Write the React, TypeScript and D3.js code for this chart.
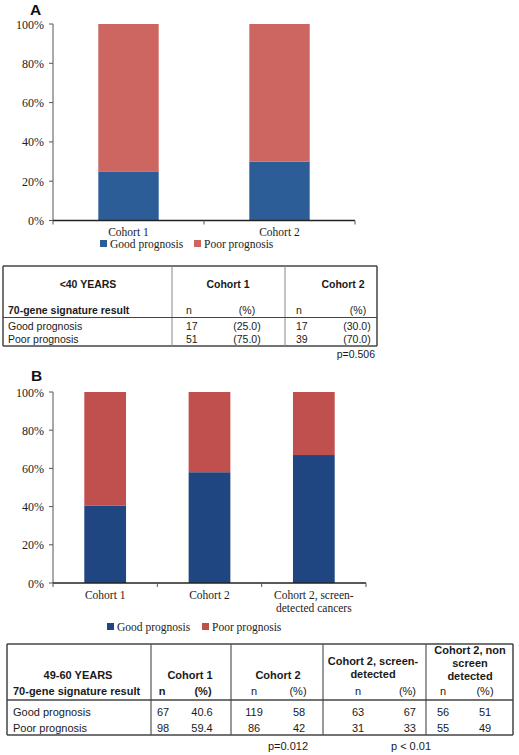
import React from "react";
import * as d3 from "d3";

const cohortsA = ["Cohort 1", "Cohort 2"];
const goodA = [25, 30];
const poorA = [75, 70];

const cohortsB = ["Cohort 1", "Cohort 2", "Cohort 2, screen-|detected cancers"];
const goodB = [40.6, 58, 67];
const poorB = [59.4, 42, 33];

const yTicks = [0, 20, 40, 60, 80, 100];
const seriesNames = ["Good prognosis", "Poor prognosis"];

const tableARows = ["Good prognosis", "Poor prognosis"];
const tableAC1n = ["17", "51"];
const tableAC1p = ["(25.0)", "(75.0)"];
const tableAC2n = ["17", "39"];
const tableAC2p = ["(30.0)", "(70.0)"];

const tableBRows = ["Good prognosis", "Poor prognosis"];
const tableBC1n = ["67", "98"];
const tableBC1p = ["40.6", "59.4"];
const tableBC2n = ["119", "86"];
const tableBC2p = ["58", "42"];
const tableBSn = ["63", "31"];
const tableBSp = ["67", "33"];
const tableBNn = ["56", "55"];
const tableBNp = ["51", "49"];

const SERIF = "'Liberation Serif', 'Times New Roman', serif";
const SANS = "'Liberation Sans', Arial, sans-serif";

type PanelProps = {
  cats: string[];
  good: number[];
  poor: number[];
  x0: number;
  x1: number;
  yBottom: number;
  yTop: number;
  colors: [string, string];
  labelY: number;
};

function Panel({ cats, good, poor, x0, x1, yBottom, yTop, colors, labelY }: PanelProps) {
  const x = d3.scaleBand<string>().domain(cats).range([x0, x1]).paddingInner(0.6).paddingOuter(0.3);
  const y = d3.scaleLinear().domain([0, 100]).range([yBottom, yTop]);
  const step = x.step();
  return (
    <g>
      {cats.map((c, i) => (
        <g key={c}>
          <rect x={x(c)} y={y(good[i])} width={x.bandwidth()} height={y(0) - y(good[i])} fill={colors[0]} />
          <rect x={x(c)} y={y(good[i] + poor[i])} width={x.bandwidth()} height={y(good[i]) - y(good[i] + poor[i])} fill={colors[1]} />
        </g>
      ))}
      <line x1={x0} x2={x0} y1={y(100)} y2={y(0)} stroke="#555" strokeWidth={1} />
      <line x1={x0} x2={x1} y1={y(0)} y2={y(0)} stroke="#222" strokeWidth={1.3} />
      {yTicks.map((t) => (
        <g key={t}>
          <line x1={x0 - 4} x2={x0} y1={y(t)} y2={y(t)} stroke="#555" />
          <text x={x0 - 9} y={y(t) + 4.5} textAnchor="end" fontFamily={SERIF} fontSize={12} fill="#222">{t}%</text>
        </g>
      ))}
      {d3.range(cats.length + 1).map((i) => (
        <line key={i} x1={x0 + i * step} x2={x0 + i * step} y1={y(0)} y2={y(0) + 4} stroke="#555" />
      ))}
      {cats.map((c) => {
        const lines = c.split("|");
        return (
          <text key={c} textAnchor="middle" fontFamily={SERIF} fontSize={11.5} fill="#222">
            {lines.map((l, j) => (
              <tspan key={j} x={(x(c) as number) + x.bandwidth() / 2} y={labelY + j * 13}>{l}</tspan>
            ))}
          </text>
        );
      })}
    </g>
  );
}

function Legend({ x1, x2, y, colors }: { x1: number; x2: number; y: number; colors: [string, string] }) {
  const xs = [x1, x2];
  return (
    <g>
      {seriesNames.map((s, i) => (
        <g key={s}>
          <rect x={xs[i]} y={y - 8} width={7} height={7} fill={colors[i]} />
          <text x={xs[i] + 10} y={y} fontFamily={SERIF} fontSize={11.5} fill="#222">{s}</text>
        </g>
      ))}
    </g>
  );
}

export default function App() {
  const colA: [string, string] = ["#2C5D96", "#CD6661"];
  const colB: [string, string] = ["#1F4680", "#C0504D"];
  const tf = { fontFamily: SANS, fill: "#1a1a1a" };
  return (
    <svg width={519} height={755} style={{ position: "absolute", left: 0, top: 0, background: "#fff" }}>
      <rect width={519} height={755} fill="#fff" />
      {/* Panel A */}
      <text x={30} y={15} fontFamily={SANS} fontWeight="bold" fontSize={15.5} fill="#111">A</text>
      <Panel cats={cohortsA} good={goodA} poor={poorA} x0={53} x1={355} yBottom={220.5} yTop={24} colors={colA} labelY={236} />
      <Legend x1={100} x2={194} y={248} colors={colA} />

      {/* Table A */}
      <g {...tf} fontSize={10.5}>
        <line x1={3} x2={377} y1={266} y2={266} stroke="#444" strokeWidth={1.5} />
        <line x1={3} x2={377} y1={346} y2={346} stroke="#444" strokeWidth={1.5} />
        <line x1={3} x2={3} y1={266} y2={346} stroke="#444" strokeWidth={1.5} />
        <line x1={377} x2={377} y1={266} y2={346} stroke="#444" strokeWidth={1.5} />
        <line x1={172} x2={172} y1={266} y2={346} stroke="#888" strokeWidth={1} />
        <line x1={285} x2={285} y1={266} y2={346} stroke="#888" strokeWidth={1} />
        <line x1={3} x2={377} y1={317.5} y2={317.5} stroke="#444" strokeWidth={1.2} />
        <text x={88} y={288} textAnchor="middle" fontWeight="bold">&lt;40 YEARS</text>
        <text x={228} y={288} textAnchor="middle" fontWeight="bold">Cohort 1</text>
        <text x={343} y={288} textAnchor="middle" fontWeight="bold">Cohort 2</text>
        <text x={8} y={314} fontWeight="bold">70-gene signature result</text>
        <text x={186} y={314}>n</text>
        <text x={247} y={314} textAnchor="middle">(%)</text>
        <text x={296} y={314}>n</text>
        <text x={358} y={314} textAnchor="middle">(%)</text>
        {tableARows.map((r, i) => (
          <g key={r}>
            <text x={8} y={330 + i * 13}>{r}</text>
            <text x={186} y={330 + i * 13}>{tableAC1n[i]}</text>
            <text x={247} y={330 + i * 13} textAnchor="middle">{tableAC1p[i]}</text>
            <text x={296} y={330 + i * 13}>{tableAC2n[i]}</text>
            <text x={357} y={330 + i * 13} textAnchor="middle">{tableAC2p[i]}</text>
          </g>
        ))}
        <text x={375} y={358} textAnchor="end">p=0.506</text>
      </g>

      {/* Panel B */}
      <text x={31} y={381} fontFamily={SANS} fontWeight="bold" fontSize={15.5} fill="#111">B</text>
      <Panel cats={cohortsB} good={goodB} poor={poorB} x0={53} x1={366} yBottom={583} yTop={392} colors={colB} labelY={599} />
      <Legend x1={107} x2={202} y={631} colors={colB} />

      {/* Table B */}
      <g {...tf} fontSize={11}>
        <line x1={7} x2={513} y1={644} y2={644} stroke="#444" strokeWidth={1.5} />
        <line x1={7} x2={513} y1={735} y2={735} stroke="#444" strokeWidth={1.5} />
        <line x1={7} x2={7} y1={644} y2={735} stroke="#444" strokeWidth={1.5} />
        <line x1={513} x2={513} y1={644} y2={735} stroke="#444" strokeWidth={1.5} />
        {[151, 231, 323, 426].map((v) => (
          <line key={v} x1={v} x2={v} y1={644} y2={735} stroke="#555" strokeWidth={1.2} />
        ))}
        <line x1={7} x2={513} y1={700} y2={700} stroke="#444" strokeWidth={1.3} />
        <text x={78} y={679} textAnchor="middle" fontWeight="bold">49-60 YEARS</text>
        <text x={13} y={695} fontWeight="bold">70-gene signature result</text>
        <text x={190} y={679} textAnchor="middle" fontWeight="bold">Cohort 1</text>
        <text x={162} y={695} textAnchor="middle" fontWeight="bold">n</text>
        <text x={203} y={695} textAnchor="middle" fontWeight="bold">(%)</text>
        <text x={278} y={679} textAnchor="middle" fontWeight="bold">Cohort 2</text>
        <text x={254} y={695} textAnchor="middle">n</text>
        <text x={298} y={695} textAnchor="middle">(%)</text>
        <text x={373} y={665} textAnchor="middle" fontWeight="bold">Cohort 2, screen-</text>
        <text x={373} y={678} textAnchor="middle" fontWeight="bold">detected</text>
        <text x={358} y={695} textAnchor="middle">n</text>
        <text x={416} y={695} textAnchor="end">(%)</text>
        <text x={470} y={654} textAnchor="middle" fontWeight="bold">Cohort 2, non</text>
        <text x={470} y={667} textAnchor="middle" fontWeight="bold">screen</text>
        <text x={470} y={680} textAnchor="middle" fontWeight="bold">detected</text>
        <text x={443} y={695} textAnchor="middle">n</text>
        <text x={485} y={695} textAnchor="middle">(%)</text>
        {tableBRows.map((r, i) => {
          const yy = 716 + i * 16;
          return (
            <g key={r}>
              <text x={13} y={yy}>{r}</text>
              <text x={157} y={yy}>{tableBC1n[i]}</text>
              <text x={202} y={yy} textAnchor="middle">{tableBC1p[i]}</text>
              <text x={254} y={yy} textAnchor="middle">{tableBC2n[i]}</text>
              <text x={299} y={yy} textAnchor="middle">{tableBC2p[i]}</text>
              <text x={358} y={yy} textAnchor="middle">{tableBSn[i]}</text>
              <text x={416} y={yy} textAnchor="end">{tableBSp[i]}</text>
              <text x={443} y={yy} textAnchor="middle">{tableBNn[i]}</text>
              <text x={485} y={yy} textAnchor="middle">{tableBNp[i]}</text>
            </g>
          );
        })}
        <text x={288} y={750} textAnchor="middle">p=0.012</text>
        <text x={411} y={750} textAnchor="middle">p &lt; 0.01</text>
      </g>
    </svg>
  );
}
